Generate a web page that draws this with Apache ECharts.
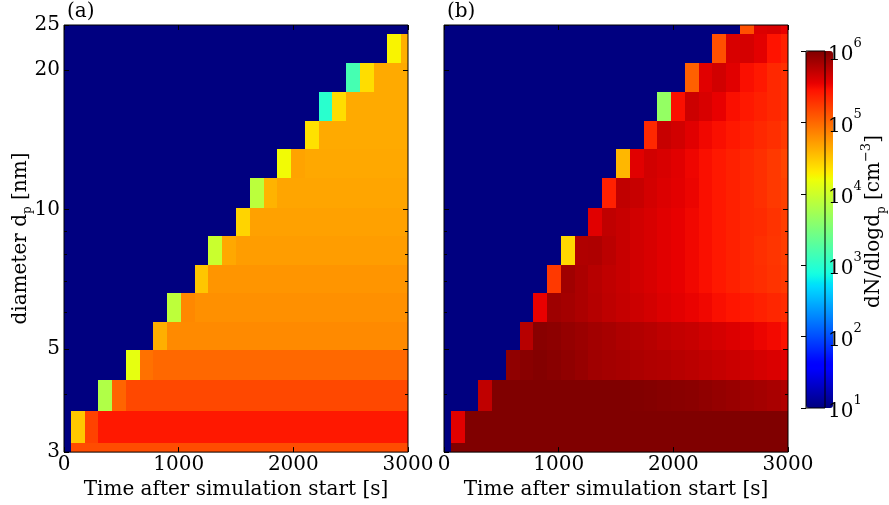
<!DOCTYPE html>
<html>
<head>
<meta charset="utf-8">
<script src="https://cdn.jsdelivr.net/npm/echarts@6/dist/echarts.min.js"></script>
<style>
  html, body { margin: 0; padding: 0; background: #fff; }
  #chart { width: 889px; height: 505px; }
</style>
</head>
<body>
<div id="chart"></div>
<script>
// time bin centres [s]
const times = [0, 120, 240, 360, 480, 600, 720, 840, 960, 1080, 1200, 1320, 1440,
  1560, 1680, 1800, 1920, 2040, 2160, 2280, 2400, 2520, 2640, 2760, 2880, 3000];
// diameter bin edges [nm], bottom to top
const diameterEdges = [2.7, 3.14, 3.67, 4.30, 4.98, 5.73, 6.60, 7.61, 8.75, 10.10,
  11.68, 13.48, 15.56, 17.96, 20.75, 23.9, 27.6];

const xTicks = [0, 1000, 2000, 3000];
const yTicks = [3, 5, 10, 20, 25];
const yMajorInner = [5, 10, 20];
const yMinorTicks = [4, 6, 7, 8, 9];
const cbarTicks = [10, 100, 1000, 10000, 100000, 1000000];

// log10(dN/dlogdp) per diameter bin, one row per bin (bottom first), panel (a)
const logNA = [
  [1, 5.15, 5.15, 5.15, 5.15, 5.15, 5.15, 5.15, 5.15, 5.15, 5.15, 5.15, 5.15, 5.15, 5.15, 5.15, 5.15, 5.15, 5.15, 5.15, 5.15, 5.15, 5.15, 5.15, 5.15, 5.15],
  [1, 4.49, 5.20, 5.42, 5.42, 5.42, 5.42, 5.42, 5.42, 5.42, 5.42, 5.42, 5.42, 5.42, 5.42, 5.42, 5.42, 5.42, 5.42, 5.42, 5.42, 5.42, 5.42, 5.42, 5.42, 5.42],
  [1, 1, 1, 3.82, 5.02, 5.17, 5.17, 5.17, 5.17, 5.17, 5.17, 5.17, 5.17, 5.17, 5.17, 5.17, 5.17, 5.17, 5.17, 5.17, 5.17, 5.17, 5.17, 5.17, 5.17, 5.17],
  [1, 1, 1, 1, 1, 4.15, 4.95, 5.00, 5.00, 5.00, 5.00, 5.00, 5.00, 5.00, 5.00, 5.00, 5.00, 5.00, 5.00, 5.00, 5.00, 5.00, 5.00, 5.00, 5.00, 5.00],
  [1, 1, 1, 1, 1, 1, 1, 4.62, 4.82, 4.82, 4.82, 4.82, 4.82, 4.82, 4.82, 4.82, 4.82, 4.82, 4.82, 4.82, 4.82, 4.82, 4.82, 4.82, 4.82, 4.82],
  [1, 1, 1, 1, 1, 1, 1, 1, 3.90, 4.83, 4.79, 4.79, 4.79, 4.79, 4.79, 4.79, 4.79, 4.79, 4.79, 4.79, 4.79, 4.79, 4.79, 4.79, 4.79, 4.79],
  [1, 1, 1, 1, 1, 1, 1, 1, 1, 1, 4.50, 4.76, 4.76, 4.76, 4.76, 4.76, 4.76, 4.76, 4.76, 4.76, 4.76, 4.76, 4.76, 4.76, 4.76, 4.76],
  [1, 1, 1, 1, 1, 1, 1, 1, 1, 1, 1, 3.97, 4.66, 4.72, 4.72, 4.72, 4.72, 4.72, 4.72, 4.72, 4.72, 4.72, 4.72, 4.72, 4.72, 4.72],
  [1, 1, 1, 1, 1, 1, 1, 1, 1, 1, 1, 1, 1, 4.43, 4.70, 4.70, 4.70, 4.70, 4.70, 4.70, 4.70, 4.70, 4.70, 4.70, 4.70, 4.70],
  [1, 1, 1, 1, 1, 1, 1, 1, 1, 1, 1, 1, 1, 1, 3.89, 4.60, 4.68, 4.68, 4.68, 4.68, 4.68, 4.68, 4.68, 4.68, 4.68, 4.68],
  [1, 1, 1, 1, 1, 1, 1, 1, 1, 1, 1, 1, 1, 1, 1, 1, 4.22, 4.69, 4.66, 4.66, 4.66, 4.66, 4.66, 4.66, 4.66, 4.66],
  [1, 1, 1, 1, 1, 1, 1, 1, 1, 1, 1, 1, 1, 1, 1, 1, 1, 1, 4.36, 4.65, 4.65, 4.65, 4.65, 4.65, 4.65, 4.65],
  [1, 1, 1, 1, 1, 1, 1, 1, 1, 1, 1, 1, 1, 1, 1, 1, 1, 1, 1, 3.00, 4.38, 4.65, 4.65, 4.65, 4.65, 4.65],
  [1, 1, 1, 1, 1, 1, 1, 1, 1, 1, 1, 1, 1, 1, 1, 1, 1, 1, 1, 1, 1, 3.17, 4.38, 4.65, 4.65, 4.65],
  [1, 1, 1, 1, 1, 1, 1, 1, 1, 1, 1, 1, 1, 1, 1, 1, 1, 1, 1, 1, 1, 1, 1, 1, 4.26, 4.62],
  [1, 1, 1, 1, 1, 1, 1, 1, 1, 1, 1, 1, 1, 1, 1, 1, 1, 1, 1, 1, 1, 1, 1, 1, 1, 1]
];

// panel (b)
const logNB = [
  [1, 6.00, 6.00, 6.00, 6.00, 6.00, 6.00, 6.00, 6.00, 6.00, 6.00, 6.00, 6.00, 6.00, 6.00, 6.00, 6.00, 6.00, 6.00, 6.00, 6.00, 6.00, 6.00, 6.00, 6.00, 6.00],
  [1, 5.58, 6.00, 6.00, 6.00, 6.00, 6.00, 6.00, 6.00, 6.00, 6.00, 6.00, 6.00, 6.00, 6.00, 6.00, 6.00, 6.00, 6.00, 6.00, 6.00, 6.00, 6.00, 6.00, 6.00, 5.99],
  [1, 1, 1, 5.72, 6.00, 6.00, 6.00, 6.00, 6.00, 6.00, 6.00, 6.00, 6.00, 6.00, 5.99, 5.98, 5.97, 5.96, 5.95, 5.93, 5.91, 5.89, 5.86, 5.84, 5.82, 5.79],
  [1, 1, 1, 1, 1, 5.93, 5.96, 5.98, 5.96, 5.93, 5.90, 5.86, 5.84, 5.83, 5.81, 5.79, 5.78, 5.76, 5.74, 5.72, 5.70, 5.68, 5.66, 5.63, 5.61, 5.58],
  [1, 1, 1, 1, 1, 1, 5.76, 5.96, 5.94, 5.91, 5.88, 5.85, 5.83, 5.80, 5.78, 5.76, 5.73, 5.71, 5.69, 5.66, 5.63, 5.60, 5.57, 5.53, 5.50, 5.46],
  [1, 1, 1, 1, 1, 1, 1, 5.55, 5.87, 5.84, 5.81, 5.77, 5.73, 5.70, 5.67, 5.64, 5.60, 5.57, 5.54, 5.51, 5.47, 5.44, 5.41, 5.38, 5.35, 5.32],
  [1, 1, 1, 1, 1, 1, 1, 1, 5.25, 5.86, 5.81, 5.76, 5.72, 5.69, 5.65, 5.62, 5.58, 5.55, 5.51, 5.47, 5.42, 5.38, 5.34, 5.31, 5.28, 5.25],
  [1, 1, 1, 1, 1, 1, 1, 1, 1, 4.41, 5.79, 5.80, 5.74, 5.69, 5.65, 5.62, 5.58, 5.55, 5.51, 5.47, 5.42, 5.38, 5.34, 5.30, 5.27, 5.23],
  [1, 1, 1, 1, 1, 1, 1, 1, 1, 1, 1, 5.58, 5.72, 5.69, 5.65, 5.62, 5.58, 5.55, 5.51, 5.47, 5.42, 5.38, 5.34, 5.32, 5.28, 5.23],
  [1, 1, 1, 1, 1, 1, 1, 1, 1, 1, 1, 1, 5.38, 5.72, 5.69, 5.64, 5.60, 5.57, 5.53, 5.47, 5.42, 5.38, 5.34, 5.30, 5.25, 5.21],
  [1, 1, 1, 1, 1, 1, 1, 1, 1, 1, 1, 1, 1, 4.58, 5.58, 5.65, 5.62, 5.58, 5.52, 5.47, 5.42, 5.38, 5.34, 5.30, 5.25, 5.19],
  [1, 1, 1, 1, 1, 1, 1, 1, 1, 1, 1, 1, 1, 1, 1, 5.34, 5.69, 5.65, 5.58, 5.51, 5.47, 5.42, 5.38, 5.34, 5.30, 5.25],
  [1, 1, 1, 1, 1, 1, 1, 1, 1, 1, 1, 1, 1, 1, 1, 1, 3.65, 5.47, 5.67, 5.62, 5.55, 5.47, 5.42, 5.38, 5.34, 5.30],
  [1, 1, 1, 1, 1, 1, 1, 1, 1, 1, 1, 1, 1, 1, 1, 1, 1, 1, 5.04, 5.58, 5.65, 5.58, 5.47, 5.42, 5.34, 5.30],
  [1, 1, 1, 1, 1, 1, 1, 1, 1, 1, 1, 1, 1, 1, 1, 1, 1, 1, 1, 1, 5.13, 5.62, 5.63, 5.57, 5.45, 5.38],
  [1, 1, 1, 1, 1, 1, 1, 1, 1, 1, 1, 1, 1, 1, 1, 1, 1, 1, 1, 1, 1, 1, 5.13, 5.60, 5.62, 5.55]
];

const FONT = 'DejaVu Serif';
const FS = 20;

// matplotlib "jet" colormap
function jet(f) {
  const seg = (pts) => {
    for (let i = 1; i < pts.length; i++) {
      if (f <= pts[i][0]) {
        const [x0, y0] = pts[i - 1], [x1, y1] = pts[i];
        return y0 + (y1 - y0) * (f - x0) / (x1 - x0);
      }
    }
    return pts[pts.length - 1][1];
  };
  const r = seg([[0, 0], [0.35, 0], [0.66, 1], [0.89, 1], [1, 0.5]]);
  const g = seg([[0, 0], [0.125, 0], [0.375, 1], [0.64, 1], [0.91, 0], [1, 0]]);
  const b = seg([[0, 0.5], [0.11, 1], [0.34, 1], [0.65, 0], [1, 0]]);
  return 'rgb(' + Math.round(r * 255) + ',' + Math.round(g * 255) + ',' + Math.round(b * 255) + ')';
}
const jetColors = [];
for (let i = 0; i <= 100; i++) jetColors.push(jet(i / 100));

// one item per cell: [t0, t1, d0, d1, log10 value]
function cells(rows) {
  const out = [];
  const n = times.length;
  rows.forEach((row, i) => {
    row.forEach((v, k) => {
      const t0 = k > 0 ? (times[k - 1] + times[k]) / 2 : times[0] - (times[1] - times[0]) / 2;
      const t1 = k < n - 1 ? (times[k] + times[k + 1]) / 2 : times[k] + (times[k] - times[k - 1]) / 2;
      out.push([t0, t1, diameterEdges[i], diameterEdges[i + 1], v]);
    });
  });
  return out;
}

function renderCell(params, api) {
  const p0 = api.coord([api.value(0), api.value(3)]);
  const p1 = api.coord([api.value(1), api.value(2)]);
  const x0 = Math.round(p0[0]), y0 = Math.round(p0[1]);
  const x1 = Math.round(p1[0]), y1 = Math.round(p1[1]);
  const cs = params.coordSys;
  const shape = echarts.graphic.clipRectByRect(
    { x: x0, y: y0, width: x1 - x0, height: y1 - y0 },
    { x: cs.x, y: cs.y, width: cs.width, height: cs.height }
  );
  if (!shape) return null;
  return { type: 'rect', shape: shape, style: { fill: api.visual('color') } };
}

const txt = { fontFamily: FONT, fontSize: FS, color: '#000' };
const rich = {
  n: { fontFamily: FONT, fontSize: FS, color: '#000' },
  s: { fontFamily: FONT, fontSize: 12, color: '#000', verticalAlign: 'bottom', lineHeight: 26 },
  e: { fontFamily: FONT, fontSize: 13, color: '#000', verticalAlign: 'top', lineHeight: 28 },
  b: { fontFamily: FONT, fontSize: FS, color: '#000', verticalAlign: 'bottom', lineHeight: 28 }
};

function xAxes(gridIndex) {
  return [
    {
      type: 'value', gridIndex: gridIndex, position: 'bottom', min: 0, max: 3000, z: 10,
      axisLine: { show: false }, splitLine: { show: false },
      axisTick: { inside: true, length: 5, lineStyle: { color: '#000' }, customValues: xTicks },
      axisLabel: { customValues: xTicks, margin: 3, formatter: (v) => String(v), fontFamily: FONT, fontSize: FS, color: '#000' },
      name: 'Time after simulation start [s]', nameLocation: 'middle', nameGap: 22, nameTextStyle: txt
    },
    {
      type: 'value', gridIndex: gridIndex, position: 'top', min: 0, max: 3000, z: 10,
      axisLine: { show: false }, splitLine: { show: false }, axisLabel: { show: false },
      axisTick: { inside: true, length: 5, lineStyle: { color: '#000' }, customValues: xTicks }
    }
  ];
}

function yAxes(gridIndex, withLabels) {
  const base = {
    type: 'log', logBase: 10, gridIndex: gridIndex, min: 3, max: 25, z: 10,
    axisLine: { show: false }, splitLine: { show: false }, axisLabel: { show: false }
  };
  const left = Object.assign({}, base, {
    position: 'left',
    axisTick: { inside: true, length: 5, lineStyle: { color: '#000' }, customValues: yTicks }
  });
  if (withLabels) {
    left.axisLabel = { show: true, customValues: yTicks, margin: 4, formatter: (v) => String(v), fontFamily: FONT, fontSize: FS, color: '#000' };
    left.name = '{n|diameter d}{s|p}{n| [nm]}';
    left.nameLocation = 'middle';
    left.nameGap = 30;
    left.nameMoveOverlap = false;
    left.nameTextStyle = { rich: rich };
  }
  return [
    left,
    Object.assign({}, base, {
      position: 'left',
      axisTick: { inside: true, length: 3, lineStyle: { color: '#000' }, customValues: yMinorTicks }
    }),
    Object.assign({}, base, {
      position: 'right',
      axisTick: { inside: true, length: 5, lineStyle: { color: '#000' }, customValues: yMajorInner }
    }),
    Object.assign({}, base, {
      position: 'right',
      axisTick: { inside: true, length: 3, lineStyle: { color: '#000' }, customValues: yMinorTicks }
    })
  ];
}

const gridFrame = { show: true, borderColor: '#000', borderWidth: 1, backgroundColor: 'transparent', z: 10 };

const option = {
  animation: false,
  backgroundColor: '#fff',
  title: [
    { text: '(a)', left: 67, top: 2, padding: 0, textStyle: { fontFamily: FONT, fontSize: FS, fontWeight: 'normal', color: '#000' } },
    { text: '(b)', left: 447, top: 2, padding: 0, textStyle: { fontFamily: FONT, fontSize: FS, fontWeight: 'normal', color: '#000' } }
  ],
  grid: [
    Object.assign({ left: 64, top: 25, width: 344, height: 429 }, gridFrame),
    Object.assign({ left: 444, top: 25, width: 344, height: 429 }, gridFrame),
    Object.assign({ left: 806, top: 51, width: 27, height: 357 }, gridFrame)
  ],
  xAxis: xAxes(0).concat(xAxes(1)).concat([
    { type: 'value', gridIndex: 2, min: 0, max: 1, show: false }
  ]),
  yAxis: yAxes(0, true).concat(yAxes(1, false)).concat([
    {
      type: 'log', logBase: 10, gridIndex: 2, position: 'right', min: 10, max: 1000000, z: 10,
      axisLine: { show: false }, splitLine: { show: false },
      axisTick: { inside: true, length: 5, lineStyle: { color: '#000' }, customValues: cbarTicks },
      axisLabel: {
        customValues: cbarTicks, margin: 3,
        formatter: (v) => '{b|10}{e|' + Math.round(Math.log10(v)) + '}',
        rich: rich
      },
      name: '{n|dN/dlogd}{s|p}{n| [cm}{e|\u22123}{n|]}',
      nameLocation: 'middle', nameGap: 35, nameMoveOverlap: false,
      nameTextStyle: { rich: rich, padding: [0, 0, 0, 16] }
    }
  ]),
  visualMap: {
    type: 'continuous', min: 1, max: 6, dimension: 4, seriesIndex: [0, 1],
    orient: 'vertical', left: 806, top: 51, itemWidth: 27, itemHeight: 357,
    padding: 0, text: null, calculable: false, hoverLink: false,
    inRange: { color: jetColors }
  },
  series: [
    {
      type: 'custom', name: '(a)', xAxisIndex: 0, yAxisIndex: 0,
      renderItem: renderCell, encode: { x: [0, 1], y: [2, 3] },
      data: cells(logNA)
    },
    {
      type: 'custom', name: '(b)', xAxisIndex: 2, yAxisIndex: 4,
      renderItem: renderCell, encode: { x: [0, 1], y: [2, 3] },
      data: cells(logNB)
    }
  ]
};

const chart = echarts.init(document.getElementById('chart'), null, { renderer: 'canvas' });
chart.setOption(option);
</script>
</body>
</html>
